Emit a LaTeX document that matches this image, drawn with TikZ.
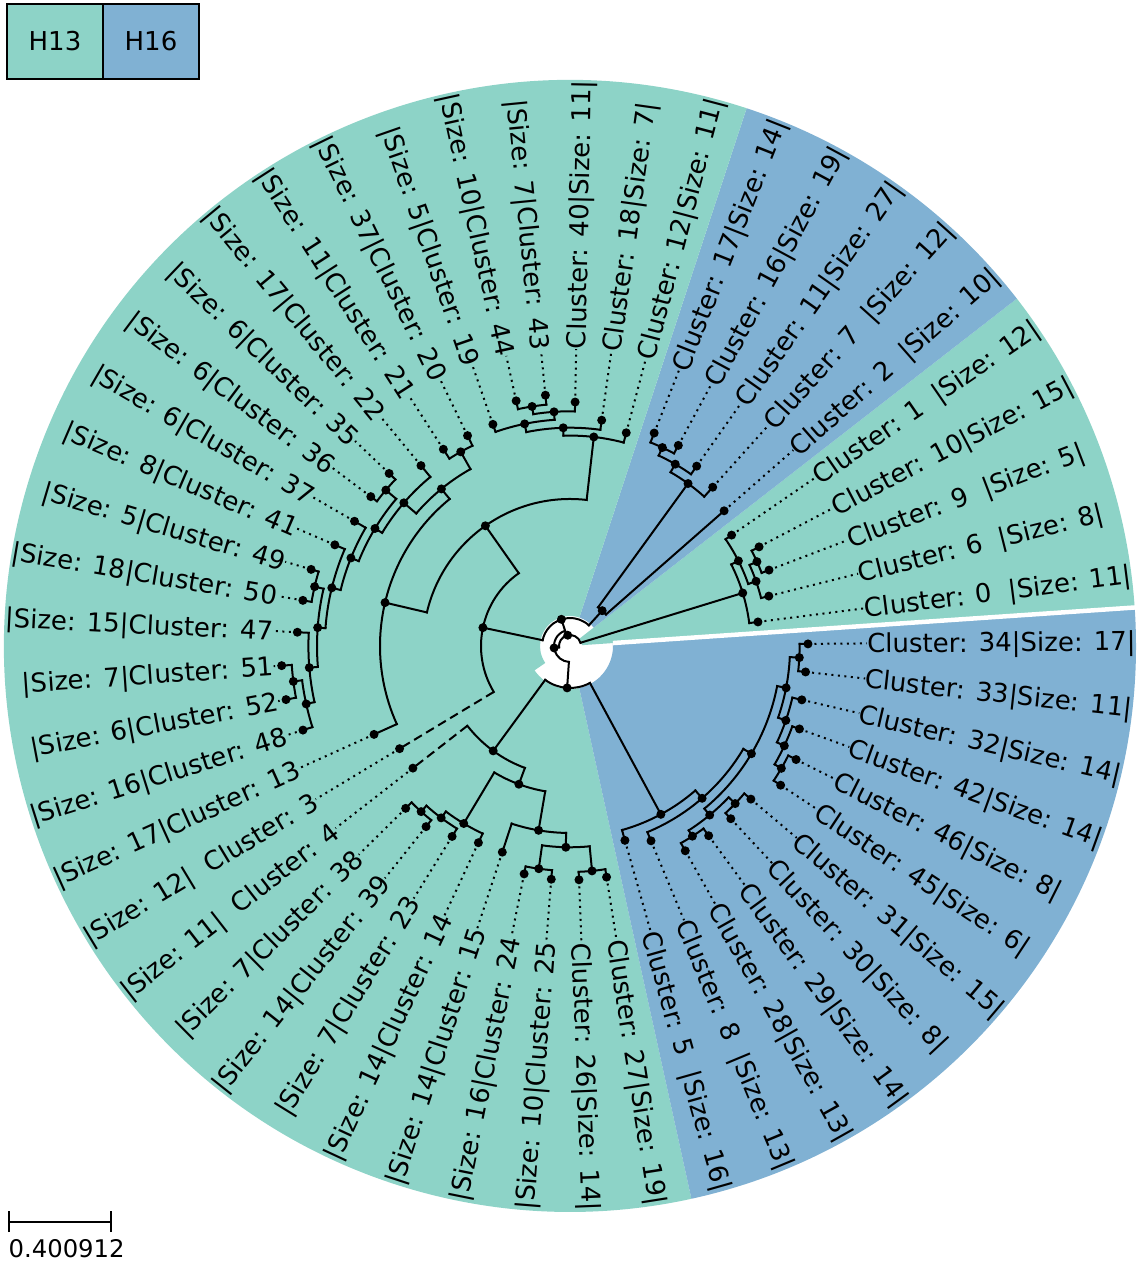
\documentclass[tikz,border=0pt]{standalone}
\usepackage{fontspec}
\setmainfont{DejaVu Sans}
\definecolor{gH}{HTML}{8DD3C7}
\definecolor{bH}{HTML}{80B1D3}
\tikzset{
  br/.style={line width=2pt, line cap=rect},
  dotl/.style={line width=2pt, dash pattern=on 2pt off 4.5pt},
  dashl/.style={line width=2pt, dash pattern=on 9pt off 5pt},
  lbl/.style={font=\fontsize{26}{30}\selectfont, inner sep=0pt, text height=18.95pt, text depth=0pt},
  lgd/.style={lbl, draw=black, line width=2pt, minimum width=96pt, minimum height=75pt},
}
\newcommand\leafR[4]{%
  \coordinate (L#1) at (#2:#3);
  \node[lbl, anchor=west, rotate=#2] (T#1) at (#2:297) {#4};
  \draw[dotl] (L#1) -- (T#1.west);}
\newcommand\leafL[4]{%
  \coordinate (L#1) at (#2:#3);
  \node[lbl, anchor=east, rotate=#2+180] (T#1) at (#2:297) {#4};
  \draw[dotl] (L#1) -- (T#1.east);}
\newcommand\arcn[3]{\draw[br] (#2:#1) arc[start angle=#2, end angle=#3, radius=#1];}
\newcommand\kid[3]{\draw[br] (#2:#1) -- (#3);}
\newcommand\kidd[3]{\draw[dashl] (#2:#1) -- (#3);}
\begin{document}
\begin{tikzpicture}[x=1pt,y=1pt]
\useasboundingbox (0,0) rectangle (1138,1265);
\begin{scope}[shift={(570,619)}]
% backgrounds
\fill[gH] (3.9:12) -- (3.9:566) arc[start angle=3.9,end angle=37.86,radius=566] -- (37.86:12) arc[start angle=37.86,end angle=3.9,radius=12] -- cycle;
\fill[bH] (37.86:30) -- (37.86:566) arc[start angle=37.86,end angle=71.82,radius=566] -- (71.82:30) arc[start angle=71.82,end angle=37.86,radius=30] -- cycle;
\fill[gH] (71.82:30) -- (71.82:566) arc[start angle=71.82,end angle=282.39,radius=566] -- (282.39:43) arc[start angle=282.39,end angle=214.46,radius=43] -- (214.46:30) arc[start angle=214.46,end angle=71.82,radius=30] -- cycle;
\fill[bH] (282.39:43) -- (282.39:566) arc[start angle=282.39,end angle=363.9,radius=566] -- (363.9:43) arc[start angle=363.9,end angle=282.39,radius=43] -- cycle;
\draw[white, line width=4.5pt] (3.9:43) -- (3.9:572);
% leaves
\leafR{34}{0.5}{238}{Cluster: 34|Size: 17|}
\leafR{0}{7.29}{189.5}{Cluster: 0\ \ |Size: 11|}
\leafR{6}{14.09}{205}{Cluster: 6\ \ |Size: 8|}
\leafR{9}{20.88}{213}{Cluster: 9\ \ |Size: 5|}
\leafR{10}{27.67}{213.5}{Cluster: 10|Size: 15|}
\leafR{1}{34.46}{196}{Cluster: 1\ \ |Size: 12|}
\leafR{2}{41.26}{205}{Cluster: 2\ \ |Size: 10|}
\leafR{7}{48.05}{213.5}{Cluster: 7\ \ |Size: 12|}
\leafR{11}{54.84}{220}{Cluster: 11|Size: 27|}
\leafR{16}{61.63}{228}{Cluster: 16|Size: 19|}
\leafR{17}{68.43}{229}{Cluster: 17|Size: 14|}
\leafR{12}{75.22}{220.5}{Cluster: 12|Size: 11|}
\leafR{18}{82.01}{228}{Cluster: 18|Size: 7|}
\leafR{40}{88.80}{244}{Cluster: 40|Size: 11|}
\leafL{43}{95.60}{252}{|Size: 7|Cluster: 43}
\leafL{44}{102.39}{251}{|Size: 10|Cluster: 44}
\leafL{19}{109.18}{234.7}{|Size: 5|Cluster: 19}
\leafL{20}{115.97}{234}{|Size: 37|Cluster: 20}
\leafL{21}{122.77}{234}{|Size: 11|Cluster: 21}
\leafL{22}{129.56}{234}{|Size: 17|Cluster: 22}
\leafL{35}{136.35}{250}{|Size: 6|Cluster: 35}
\leafL{36}{143.14}{249}{|Size: 6|Cluster: 36}
\leafL{37}{149.94}{249}{|Size: 6|Cluster: 37}
\leafL{41}{156.73}{256}{|Size: 8|Cluster: 41}
\leafL{49}{163.52}{270}{|Size: 5|Cluster: 49}
\leafL{50}{170.31}{271}{|Size: 18|Cluster: 50}
\leafL{47}{177.11}{273}{|Size: 15|Cluster: 47}
\leafL{51}{183.90}{289}{|Size: 7|Cluster: 51}
\leafL{52}{190.69}{289}{|Size: 6|Cluster: 52}
\leafL{48}{197.48}{280}{|Size: 16|Cluster: 48}
\leafL{13}{204.28}{215}{|Size: 17|Cluster: 13}
\leafL{3}{211.07}{199}{|Size: 12|\ \ Cluster: 3}
\leafL{4}{217.86}{199}{|Size: 11|\ \ Cluster: 4}
\leafL{38}{224.65}{231}{|Size: 7|Cluster: 38}
\leafL{39}{231.45}{231}{|Size: 14|Cluster: 39}
\leafL{23}{238.24}{224}{|Size: 7|Cluster: 23}
\leafL{14}{245.03}{217}{|Size: 14|Cluster: 14}
\leafL{15}{251.82}{217}{|Size: 14|Cluster: 15}
\leafL{24}{258.62}{232.5}{|Size: 16|Cluster: 24}
\leafL{25}{265.41}{234}{|Size: 10|Cluster: 25}
\leafR{26}{272.20}{234}{Cluster: 26|Size: 14|}
\leafR{27}{278.99}{234}{Cluster: 27|Size: 19|}
\leafR{5}{285.78}{202}{Cluster: 5\ \ |Size: 16|}
\leafR{8}{292.58}{211}{Cluster: 8\ \ |Size: 13|}
\leafR{28}{299.37}{235}{Cluster: 28|Size: 13|}
\leafR{29}{306.16}{235}{Cluster: 29|Size: 14|}
\leafR{30}{312.95}{236}{Cluster: 30|Size: 8|}
\leafR{31}{319.75}{237}{Cluster: 31|Size: 15|}
\leafR{45}{326.54}{252.5}{Cluster: 45|Size: 6|}
\leafR{46}{333.33}{253}{Cluster: 46|Size: 8|}
\leafR{42}{340.12}{244}{Cluster: 42|Size: 14|}
\leafR{32}{346.92}{238}{Cluster: 32|Size: 14|}
\leafR{33}{353.71}{237}{Cluster: 33|Size: 11|}
% internal nodes
\coordinate (nB) at (102.0:11);
\coordinate (nF) at (186.97:16);
\coordinate (nE) at (107.87:28);
\coordinate (nH) at (266.07:42);
\coordinate (nG) at (17.06:180.7);
\coordinate (nN1) at (26.82:188.7);
\coordinate (nN2) at (19.18:197);
\coordinate (nN3) at (24.28:205.1);
\coordinate (nBU) at (47.63:47.8);
\coordinate (nb3) at (54.0:200.8);
\coordinate (nb2) at (59.94:210.1);
\coordinate (nb1) at (65.03:218.9);
\coordinate (nM1) at (168.11:89);
\coordinate (nM2) at (125.15:147);
\coordinate (nTP) at (83.5:210.4);
\coordinate (nt4) at (91.78:218.3);
\coordinate (nt3) at (101.54:226.7);
\coordinate (nt2) at (93.9:234.7);
\coordinate (nt1) at (99.0:242.5);
\coordinate (nM3) at (166.8:190);
\coordinate (ui) at (129.31:203);
\coordinate (uc) at (119.37:222.8);
\coordinate (uh) at (139.25:219.3);
\coordinate (uj) at (148.93:227.7);
\coordinate (uf) at (139.75:241.3);
\coordinate (um) at (158.11:236.1);
\coordinate (up) at (166.28:245.2);
\coordinate (ur) at (175.83:253);
\coordinate (uo) at (166.92:262.2);
\coordinate (ut) at (184.75:261.6);
\coordinate (uw) at (192.39:270.1);
\coordinate (uv) at (187.3:278.9);
\coordinate (bM4) at (233.78:130);
\coordinate (bQ) at (249.7:147.4);
\coordinate (bS) at (239.09:206.9);
\coordinate (bX) at (233.15:214.8);
\coordinate (bY) at (228.05:222.7);
\coordinate (bT) at (260.32:187);
\coordinate (bU) at (268.81:201.3);
\coordinate (bV) at (262.02:224.9);
\coordinate (bW) at (275.6:226);
\coordinate (lBL) at (298.36:191.3);
\coordinate (lc7) at (310.94:201.6);
\coordinate (lc6) at (329.3:211);
\coordinate (lc9) at (309.56:219.3);
\coordinate (lc10) at (302.77:226.2);
\coordinate (lc8) at (316.35:228.3);
\coordinate (lc2) at (349.04:220.1);
\coordinate (lc3) at (340.98:228.3);
\coordinate (lc4) at (335.03:236.4);
\coordinate (lc5) at (329.94:244.2);
\coordinate (lc1) at (357.1:229.6);
% branches
\arcn{11}{17.06}{186.97} \kid{11}{17.06}{nG} \kid{11}{186.97}{nF}
\arcn{16}{107.87}{266.07} \kid{16}{107.87}{nE} \kid{16}{266.07}{nH}
\arcn{28}{47.63}{168.11} \kid{28}{47.63}{nBU} \kid{28}{168.11}{nM1}
\arcn{42}{233.78}{298.36} \kid{42}{233.78}{bM4} \kid{42}{298.36}{lBL}
\arcn{180.7}{7.29}{26.82} \kid{180.7}{7.29}{L0} \kid{180.7}{26.82}{nN1}
\arcn{188.7}{19.18}{34.46} \kid{188.7}{19.18}{nN2} \kid{188.7}{34.46}{L1}
\arcn{197}{14.09}{24.28} \kid{197}{14.09}{L6} \kid{197}{24.28}{nN3}
\arcn{205.1}{20.88}{27.67} \kid{205.1}{20.88}{L9} \kid{205.1}{27.67}{L10}
\arcn{47.8}{41.26}{54.0} \kid{47.8}{41.26}{L2} \kid{47.8}{54.0}{nb3}
\arcn{200.8}{48.05}{59.94} \kid{200.8}{48.05}{L7} \kid{200.8}{59.94}{nb2}
\arcn{210.1}{54.84}{65.03} \kid{210.1}{54.84}{L11} \kid{210.1}{65.03}{nb1}
\arcn{218.9}{61.63}{68.43} \kid{218.9}{61.63}{L16} \kid{218.9}{68.43}{L17}
\arcn{89}{125.15}{211.07} \kid{89}{125.15}{nM2} \kidd{89}{211.07}{L3}
\arcn{147}{83.5}{166.8} \kid{147}{83.5}{nTP} \kid{147}{166.8}{nM3}
\arcn{210.4}{75.22}{91.78} \kid{210.4}{75.22}{L12} \kid{210.4}{91.78}{nt4}
\arcn{218.3}{82.01}{101.54} \kid{218.3}{82.01}{L18} \kid{218.3}{101.54}{nt3}
\arcn{226.7}{93.9}{109.18} \kid{226.7}{93.9}{nt2} \kid{226.7}{109.18}{L19}
\arcn{234.7}{88.8}{99.0} \kid{234.7}{88.8}{L40} \kid{234.7}{99.0}{nt1}
\arcn{242.5}{95.6}{102.39} \kid{242.5}{95.6}{L43} \kid{242.5}{102.39}{L44}
\arcn{190}{129.31}{204.28} \kid{190}{129.31}{ui} \kid{190}{204.28}{L13}
\arcn{203}{119.37}{139.25} \kid{203}{119.37}{uc} \kid{203}{139.25}{uh}
\arcn{222.8}{115.97}{122.77} \kid{222.8}{115.97}{L20} \kid{222.8}{122.77}{L21}
\arcn{219.3}{129.56}{148.93} \kid{219.3}{129.56}{L22} \kid{219.3}{148.93}{uj}
\arcn{227.7}{139.75}{158.11} \kid{227.7}{139.75}{uf} \kid{227.7}{158.11}{um}
\arcn{241.3}{136.35}{143.14} \kid{241.3}{136.35}{L35} \kid{241.3}{143.14}{L36}
\arcn{236.1}{149.94}{166.28} \kid{236.1}{149.94}{L37} \kid{236.1}{166.28}{up}
\arcn{245.2}{156.73}{175.83} \kid{245.2}{156.73}{L41} \kid{245.2}{175.83}{ur}
\arcn{253}{166.92}{184.75} \kid{253}{166.92}{uo} \kid{253}{184.75}{ut}
\arcn{262.2}{163.52}{170.31} \kid{262.2}{163.52}{L49} \kid{262.2}{170.31}{L50}
\arcn{261.6}{177.11}{192.39} \kid{261.6}{177.11}{L47} \kid{261.6}{192.39}{uw}
\arcn{270.1}{187.3}{197.48} \kid{270.1}{187.3}{uv} \kid{270.1}{197.48}{L48}
\arcn{278.9}{183.9}{190.69} \kid{278.9}{183.9}{L51} \kid{278.9}{190.69}{L52}
\arcn{130}{217.86}{249.7} \kidd{130}{217.86}{L4} \kid{130}{249.7}{bQ}
\arcn{147.4}{239.09}{260.32} \kid{147.4}{239.09}{bS} \kid{147.4}{260.32}{bT}
\arcn{206.9}{233.15}{245.03} \kid{206.9}{233.15}{bX} \kid{206.9}{245.03}{L14}
\arcn{214.8}{228.05}{238.24} \kid{214.8}{228.05}{bY} \kid{214.8}{238.24}{L23}
\arcn{222.7}{224.65}{231.45} \kid{222.7}{224.65}{L38} \kid{222.7}{231.45}{L39}
\arcn{187}{251.82}{268.81} \kid{187}{251.82}{L15} \kid{187}{268.81}{bU}
\arcn{201.3}{262.02}{275.6} \kid{201.3}{262.02}{bV} \kid{201.3}{275.6}{bW}
\arcn{224.9}{258.62}{265.41} \kid{224.9}{258.62}{L24} \kid{224.9}{265.41}{L25}
\arcn{226}{272.2}{278.99} \kid{226}{272.2}{L26} \kid{226}{278.99}{L27}
\arcn{191.3}{285.78}{310.94} \kid{191.3}{285.78}{L5} \kid{191.3}{310.94}{lc7}
\arcn{201.6}{292.58}{329.3} \kid{201.6}{292.58}{L8} \kid{201.6}{329.3}{lc6}
\arcn{211}{309.56}{349.04} \kid{211}{309.56}{lc9} \kid{211}{349.04}{lc2}
\arcn{219.3}{302.77}{316.35} \kid{219.3}{302.77}{lc10} \kid{219.3}{316.35}{lc8}
\arcn{226.2}{299.37}{306.16} \kid{226.2}{299.37}{L28} \kid{226.2}{306.16}{L29}
\arcn{228.3}{312.95}{319.75} \kid{228.3}{312.95}{L30} \kid{228.3}{319.75}{L31}
\arcn{220.1}{340.98}{357.1} \kid{220.1}{340.98}{lc3} \kid{220.1}{357.1}{lc1}
\arcn{228.3}{335.03}{346.92} \kid{228.3}{335.03}{lc4} \kid{228.3}{346.92}{L32}
\arcn{236.4}{329.94}{340.12} \kid{236.4}{329.94}{lc5} \kid{236.4}{340.12}{L42}
\arcn{244.2}{326.54}{333.33} \kid{244.2}{326.54}{L45} \kid{244.2}{333.33}{L46}
\arcn{229.6}{353.71}{360.5} \kid{229.6}{353.71}{L33} \kid{229.6}{360.5}{L34}
% dots
\foreach \n in {nB,nF,nE,nH,nG,nN1,nN2,nN3,nBU,nb3,nb2,nb1,nM1,nM2,nTP,nt4,nt3,nt2,nt1,nM3,ui,uc,uh,uj,uf,um,up,ur,uo,ut,uw,uv,bM4,bQ,bS,bX,bY,bT,bU,bV,bW,lBL,lc7,lc6,lc9,lc10,lc8,lc2,lc3,lc4,lc5,lc1}
  {\fill (\n) circle[radius=4.5];}
\foreach \k in {0,...,52}
  {\fill (L\k) circle[radius=4.5];}
\end{scope}
% legend
\node[lgd, fill=gH] (K13) at (55,1223.5) {H13};
\node[lgd, fill=bH] (K16) at (151,1223.5) {H16};
% scale bar
\coordinate (s1) at (9,43.3);
\coordinate (s2) at (110.7,43.3);
\draw[line width=2pt] (s1) -- (s2);
\draw[line width=2pt] ([yshift=-10.5pt]s1) -- ([yshift=10.5pt]s1);
\draw[line width=2pt] ([yshift=-10.5pt]s2) -- ([yshift=10.5pt]s2);
\node[anchor=base west, inner sep=0pt, font=\fontsize{24.3}{28}\selectfont] (sl) at (8.5,7.3) {0.400912};
\end{tikzpicture}
\end{document}
